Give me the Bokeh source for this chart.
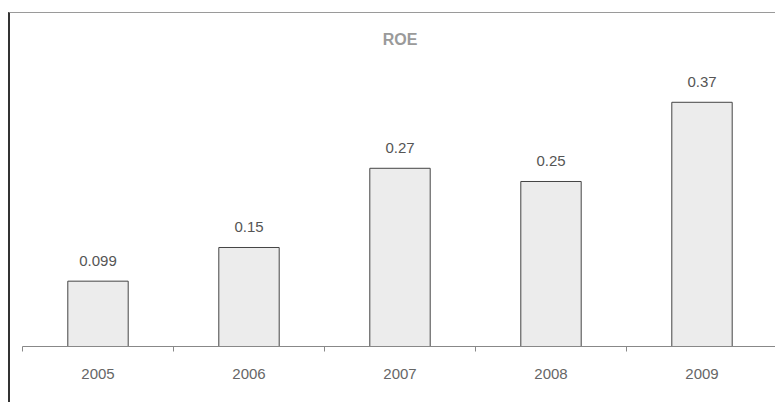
from bokeh.plotting import figure
from bokeh.models import ColumnDataSource, Range1d, FixedTicker
from bokeh.core.properties import value
from bokeh.embed import file_html
from bokeh.resources import INLINE

years = ["2005", "2006", "2007", "2008", "2009"]
roe = [0.099, 0.15, 0.27, 0.25, 0.37]
roe_labels = ["0.099", "0.15", "0.27", "0.25", "0.37"]

xpos = [i + 0.5 for i in range(len(years))]
src = ColumnDataSource(dict(x=xpos, top=roe, lab=roe_labels))

FONT = "Liberation Sans"

p = figure(width=767, height=390, output_backend="svg", toolbar_location=None,
           x_range=Range1d(0, len(years)), y_range=Range1d(0, 0.4318),
           y_axis_location=None, title="ROE",
           min_border_left=12, min_border_right=0, min_border_bottom=57, min_border_top=48)
p.margin = (12, 0, 0, 8)
p.styles = {"border-top": "1px solid #9a9a9a", "border-left": "2px solid #333333"}
p.outline_line_color = None
p.xgrid.visible = False
p.ygrid.visible = False
p.background_fill_color = "white"
p.border_fill_color = "white"

p.title.align = "center"
p.title.text_font = FONT
p.title.text_font_size = "16px"
p.title.text_font_style = "bold"
p.title.text_color = "#9a9a9a"
p.title.standoff = 27

p.vbar(x="x", top="top", width=0.4, source=src, fill_color="#ececec",
       line_color="#444444", line_width=1)
p.text(x="x", y="top", text="lab", source=src, text_align="center",
       text_baseline="alphabetic", y_offset=-20, text_font=value(FONT),
       text_font_size="15px", text_color="#555555")

ax = p.xaxis[0]
ax.ticker = FixedTicker(ticks=xpos, minor_ticks=list(range(len(years) + 1)))
ax.major_label_overrides = {x: y for x, y in zip(xpos, years)}
ax.major_tick_out = 0
ax.major_tick_in = 0
ax.minor_tick_out = 5
ax.minor_tick_in = 0
ax.minor_tick_line_color = "#888888"
ax.axis_line_color = "#888888"
ax.major_label_standoff = 17
ax.major_label_text_font = FONT
ax.major_label_text_font_size = "15px"
ax.major_label_text_color = "#666666"

open("out.html", "w").write(file_html(p, INLINE))
